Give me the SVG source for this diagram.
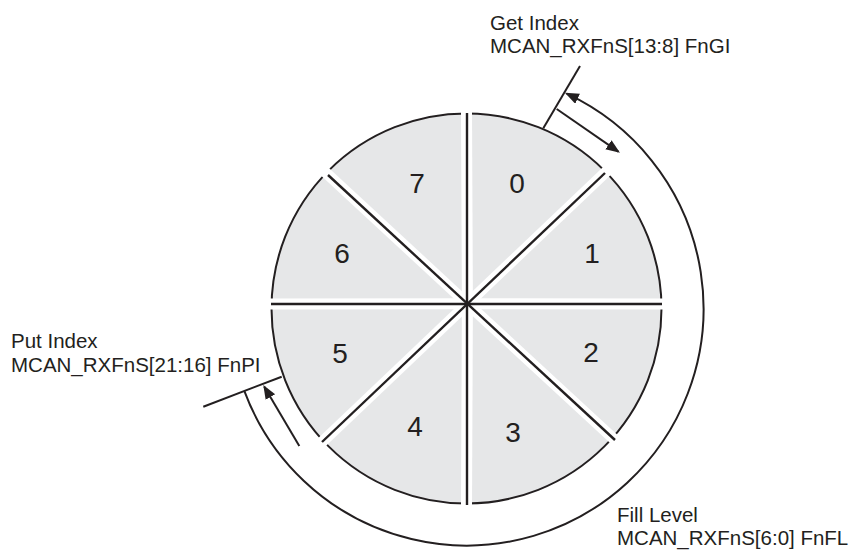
<svg xmlns="http://www.w3.org/2000/svg" width="859" height="550" viewBox="0 0 859 550">
<style>
.wedge{fill:#e6e7e8;stroke:none}
.num{font-family:"Liberation Sans",Arial,sans-serif;font-size:28px;fill:#231f20;text-anchor:middle}
.lbl{font-family:"Liberation Sans",Arial,sans-serif;font-size:20.5px;fill:#231f20}
.outline{fill:none;stroke:#231f20;stroke-width:2}
.gap{stroke:#ffffff;stroke-width:11;stroke-linecap:butt}
.div{stroke:#231f20;stroke-width:2.4;stroke-linecap:butt}
.line{fill:none;stroke:#231f20;stroke-width:2}
</style>
<defs>
<marker id="arrow" markerUnits="userSpaceOnUse" markerWidth="16" markerHeight="12" refX="12" refY="5.5" orient="auto">
<path d="M0,0 L14,5.5 L0,11 Z" fill="#231f20"/>
</marker>
</defs>
<rect width="859" height="550" fill="#ffffff"/>
<g id="segment-0"><path class="wedge" d="M467.4,303.7 L466.5,113.5 A195,195 0 0 1 605.9,172.2 Z"/><text class="num" x="517" y="193">0</text></g>
<g id="segment-1"><path class="wedge" d="M467.4,303.7 L605.9,172.2 A195,195 0 0 1 661.4,304 Z"/><text class="num" x="592" y="263">1</text></g>
<g id="segment-2"><path class="wedge" d="M467.4,303.7 L661.4,304 A195,195 0 0 1 612.5,437.8 Z"/><text class="num" x="591" y="362">2</text></g>
<g id="segment-3"><path class="wedge" d="M467.4,303.7 L612.5,437.8 A195,195 0 0 1 466.5,503.5 Z"/><text class="num" x="513" y="442">3</text></g>
<g id="segment-4"><path class="wedge" d="M467.4,303.7 L466.5,503.5 A195,195 0 0 1 323.3,440.8 Z"/><text class="num" x="415" y="436">4</text></g>
<g id="segment-5"><path class="wedge" d="M467.4,303.7 L323.3,440.8 A195,195 0 0 1 271.6,304 Z"/><text class="num" x="340" y="363">5</text></g>
<g id="segment-6"><path class="wedge" d="M467.4,303.7 L271.6,304 A195,195 0 0 1 326.1,173.1 Z"/><text class="num" x="342" y="263">6</text></g>
<g id="segment-7"><path class="wedge" d="M467.4,303.7 L326.1,173.1 A195,195 0 0 1 466.5,113.5 Z"/><text class="num" x="417" y="193">7</text></g>
<g id="buffer-outline">
<circle class="outline" cx="466.5" cy="308.5" r="195"/>
<g class="gap">
<line x1="467.4" y1="303.7" x2="466.5" y2="109"/>
<line x1="467.4" y1="303.7" x2="609" y2="169"/>
<line x1="467.4" y1="303.7" x2="666" y2="304"/>
<line x1="467.4" y1="303.7" x2="616" y2="441"/>
<line x1="467.4" y1="303.7" x2="466.5" y2="508"/>
<line x1="467.4" y1="303.7" x2="320" y2="444"/>
<line x1="467.4" y1="303.7" x2="267" y2="304"/>
<line x1="467.4" y1="303.7" x2="323" y2="170"/>
</g>
<g class="div">
<line x1="467" y1="113" x2="467" y2="505"/>
<line x1="271" y1="304" x2="662" y2="304"/>
<line x1="605" y1="173" x2="322" y2="442"/>
<line x1="328" y1="175" x2="615" y2="440"/>
</g>
</g>
<g id="connectors">
<line class="line" x1="543.3" y1="128.3" x2="580" y2="66"/>
<line class="line" x1="556.7" y1="109" x2="618.3" y2="151.6" marker-end="url(#arrow)"/>
<line class="line" x1="203.3" y1="406.7" x2="281.7" y2="376.7"/>
<line class="line" x1="299.3" y1="446" x2="264.3" y2="386.7" marker-end="url(#arrow)"/>
<path class="line" d="M244.4,391.1 A237,237 0 1 0 566.7,93.7" marker-end="url(#arrow)"/>
</g>
<g id="labels">
<text class="lbl" x="490" y="30">Get Index</text>
<text class="lbl" x="490" y="53">MCAN_RXFnS[13:8] FnGI</text>
<text class="lbl" x="11" y="348">Put Index</text>
<text class="lbl" x="11" y="372">MCAN_RXFnS[21:16] FnPI</text>
<text class="lbl" x="617" y="522">Fill Level</text>
<text class="lbl" x="617" y="545">MCAN_RXFnS[6:0] FnFL</text>
</g>
</svg>
